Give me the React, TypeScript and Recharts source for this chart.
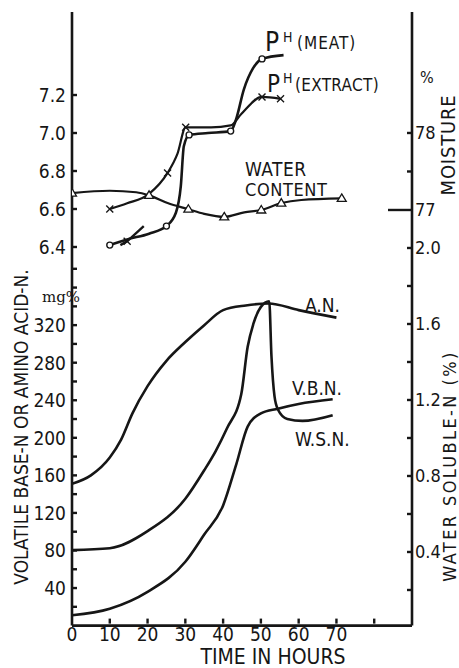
import { ComposedChart, Line, XAxis, YAxis } from "recharts"

const FONT = "'DejaVu Sans Condensed', 'Liberation Sans Narrow', 'DejaVu Sans', sans-serif"
const INK = "#161616"

// time axis (hours)
const hourTicks = [0, 10, 20, 30, 40, 50, 60, 70, 80]
const hourLabels = [0, 10, 20, 30, 40, 50, 60, 70]

// left axis, lower part: volatile base-N / amino acid-N (mg%)
const mgTicks = [20, 40, 60, 80, 100, 120, 140, 160, 180, 200, 220, 240, 260, 280, 300, 320, 340, 360, 380]
const mgLabels = [40, 80, 120, 160, 200, 240, 280, 320]

// left axis, upper part: pH
const phTicks = [6.4, 6.6, 6.8, 7.0, 7.2]

// right axis, upper part: moisture %
const moistureTicks = [77, 77.5, 78]
const moistureLabels = [77, 78]

// right axis, lower part: water soluble-N %
const wsnTicks = [0.2, 0.4, 0.6, 0.8, 1.0, 1.2, 1.4, 1.6, 1.8, 2.0]
const wsnLabels = [0.4, 0.8, 1.2, 1.6, 2.0]

// A.N. (mg%)
const anHours = [0, 5, 10, 13, 16, 20, 25, 30, 35, 40, 46, 52, 60, 70]
const anMg = [151, 160, 179, 198, 226, 255, 282, 302, 320, 336, 341, 343, 336, 328]

// V.B.N. (mg%)
const vbnHours = [0, 10, 20, 30, 35, 40, 43.5, 46.5, 50, 54.5, 60, 69]
const vbnMg = [11, 18, 36, 68, 97, 128, 172, 212, 226, 231, 236, 241]

// W.S.N. (%)
const wsnHours = [0, 10, 20, 30, 35, 38, 41, 44.8, 46.5, 48, 50, 52.2, 52.8, 53.6, 54.5, 57, 61, 69]
const wsnPct = [0.41, 0.42, 0.51, 0.68, 0.83, 0.93, 1.05, 1.23, 1.48, 1.6, 1.69, 1.72, 1.43, 1.22, 1.15, 1.1, 1.09, 1.12]

// pH (meat)
const meatHours = [10, 14.6, 20.4, 25, 27.5, 28.8, 29.6, 31, 36, 42, 43.4, 45.5, 47.9, 50.3, 56]
const meatPh = [6.41, 6.44, 6.47, 6.51, 6.58, 6.72, 6.93, 6.99, 7.0, 7.01, 7.07, 7.23, 7.34, 7.39, 7.41]
const meatMarks = [10, 25, 31, 42, 50.3]

// pH (extract)
const extractHours = [10, 14.6, 20.4, 25.3, 27.9, 30.1, 36.8, 42, 44.8, 50.3, 55.2]
const extractPh = [6.6, 6.63, 6.68, 6.79, 6.89, 7.03, 7.03, 7.04, 7.1, 7.19, 7.18]
const extractMarks = [10, 25.3, 30.1, 50.3, 55.2]

// short extra stroke near the start of the pH curves
const strokeHours = [12.8, 14.6, 19]
const strokePh = [6.41, 6.43, 6.51]
const strokeMarks = [14.6]

// water content (moisture %)
const waterHours = [0, 10, 17, 20.4, 25.3, 30.8, 35, 40.3, 45.6, 50.1, 55.4, 60.7, 71.4]
const waterPct = [77.22, 77.25, 77.23, 77.19, 77.09, 77.01, 76.95, 76.91, 76.97, 77.0, 77.09, 77.13, 77.15]
const waterMarks = [0, 20.4, 30.8, 40.3, 50.1, 55.4, 71.4]

const toRows = (hours: number[], values: number[], marks: number[] = []) =>
  hours.map((t, i) => ({ t, v: values[i], mark: marks.includes(t) }))

const W = 459
const H = 668
const MARGIN = { top: 12, left: 12, right: 7, bottom: 6.4 }
const LEFT_W = 60
const RIGHT_W = 40
const X_H = 36

const tickText = { fontFamily: FONT, fontSize: 19, fill: INK }

const LeftTick = (props: any) => {
  const { x, y, payload, labels, digits } = props
  const show = labels.includes(payload.value)
  return (
    <g>
      <line x1={x + 6} x2={x + 11} y1={y} y2={y} stroke={INK} strokeWidth={2.4} />
      {show && (
        <text x={x} y={y} textAnchor="end" dominantBaseline="central" {...tickText}>
          {payload.value.toFixed(digits)}
        </text>
      )}
    </g>
  )
}

const RightTick = (props: any) => {
  const { x, y, payload, labels, digits, longAt } = props
  const show = labels.includes(payload.value)
  const len = payload.value === longAt ? 24 : 5
  return (
    <g>
      <line x1={x - 3} x2={x - 3 - len} y1={y} y2={y} stroke={INK} strokeWidth={2.4} />
      {show && (
        <text x={x} y={y} textAnchor="start" dominantBaseline="central" {...tickText} fontSize={18}>
          {payload.value.toFixed(digits)}
        </text>
      )}
    </g>
  )
}

const BottomTick = (props: any) => {
  const { x, y, payload } = props
  const show = hourLabels.includes(payload.value)
  return (
    <g>
      {payload.value > 0 && <line x1={x} x2={x} y1={y - 3} y2={y - 8} stroke={INK} strokeWidth={2.4} />}
      {show && (
        <text x={x} y={y} textAnchor="middle" dominantBaseline="hanging" {...tickText}>
          {payload.value}
        </text>
      )}
    </g>
  )
}

const circleDot = (p: any) =>
  p.payload.mark ? (
    <circle key={p.index} cx={p.cx} cy={p.cy} r={3} fill="#fff" stroke={INK} strokeWidth={1.4} />
  ) : (
    <g key={p.index} />
  )

const crossDot = (p: any) =>
  p.payload.mark ? (
    <g key={p.index} stroke={INK} strokeWidth={1.4}>
      <line x1={p.cx - 3.5} y1={p.cy - 3.5} x2={p.cx + 3.5} y2={p.cy + 3.5} />
      <line x1={p.cx - 3.5} y1={p.cy + 3.5} x2={p.cx + 3.5} y2={p.cy - 3.5} />
    </g>
  ) : (
    <g key={p.index} />
  )

const triangleDot = (p: any) =>
  p.payload.mark ? (
    <path
      key={p.index}
      d={`M${p.cx},${p.cy - 4.5} L${p.cx + 4.5},${p.cy + 3} L${p.cx - 4.5},${p.cy + 3} Z`}
      fill="#fff"
      stroke={INK}
      strokeWidth={1.3}
    />
  ) : (
    <g key={p.index} />
  )

const Label = ({ x, y, size, children, family, spacing }: any) => (
  <div
    style={{
      position: "absolute",
      left: x,
      top: y,
      fontSize: size,
      lineHeight: 1,
      whiteSpace: "nowrap",
      fontFamily: family || FONT,
      letterSpacing: spacing || 0,
      color: INK,
    }}
  >
    {children}
  </div>
)

const VLabel = ({ cx, cy, size, children, spacing }: any) => (
  <div
    style={{
      position: "absolute",
      left: cx,
      top: cy,
      fontSize: size,
      lineHeight: 1,
      whiteSpace: "nowrap",
      fontFamily: FONT,
      letterSpacing: spacing || 0,
      color: INK,
      transform: "translate(-50%, -50%) rotate(-90deg)",
    }}
  >
    {children}
  </div>
)

export default function App() {
  const anData = toRows(anHours, anMg)
  const vbnData = toRows(vbnHours, vbnMg)
  const wsnData = toRows(wsnHours, wsnPct)
  const meatData = toRows(meatHours, meatPh, meatMarks)
  const extractData = toRows(extractHours, extractPh, extractMarks)
  const strokeData = toRows(strokeHours, strokePh, strokeMarks)
  const waterData = toRows(waterHours, waterPct, waterMarks)

  const axisLine = { stroke: INK, strokeWidth: 2.6 }

  return (
    <div style={{ position: "absolute", left: 0, top: 0, width: W, height: H, background: "#fff", overflow: "hidden" }}>
      {/* lower panel: nitrogen curves */}
      <div style={{ position: "absolute", left: 0, top: 0 }}>
        <ComposedChart width={W} height={H} margin={MARGIN}>
          <XAxis
            dataKey="t"
            type="number"
            domain={[0, 90]}
            ticks={hourTicks}
            allowDataOverflow
            height={X_H}
            axisLine={axisLine}
            tickLine={false}
            tickSize={0}
            tickMargin={1}
            tick={(p: any) => <BottomTick {...p} />}
            interval={0}
          />
          <YAxis
            yAxisId="mg"
            orientation="left"
            type="number"
            domain={[0, 653.5]}
            allowDataOverflow
            ticks={mgTicks}
            width={LEFT_W}
            axisLine={axisLine}
            tickLine={false}
            tickSize={0}
            tickMargin={6}
            interval={0}
            tick={(p: any) => <LeftTick {...p} labels={mgLabels} digits={0} />}
          />
          <YAxis
            yAxisId="wsn"
            orientation="right"
            type="number"
            domain={[0.0126, 3.242]}
            allowDataOverflow
            ticks={wsnTicks}
            width={RIGHT_W}
            axisLine={axisLine}
            tickLine={false}
            tickSize={0}
            tickMargin={3}
            interval={0}
            tick={(p: any) => <RightTick {...p} labels={wsnLabels} digits={1} />}
          />
          <Line data={anData} dataKey="v" yAxisId="mg" type="monotone" stroke={INK} strokeWidth={2.6} dot={false} isAnimationActive={false} />
          <Line data={vbnData} dataKey="v" yAxisId="mg" type="monotone" stroke={INK} strokeWidth={2.6} dot={false} isAnimationActive={false} />
          <Line data={wsnData} dataKey="v" yAxisId="wsn" type="monotone" stroke={INK} strokeWidth={2.6} dot={false} isAnimationActive={false} />
        </ComposedChart>
      </div>

      {/* upper panel: pH and moisture, same plot area */}
      <div style={{ position: "absolute", left: 0, top: 0 }}>
        <ComposedChart width={W} height={H} margin={MARGIN}>
          <XAxis dataKey="t" type="number" domain={[0, 90]} allowDataOverflow height={X_H} axisLine={false} tickLine={false} tick={false} />
          <YAxis
            yAxisId="ph"
            orientation="left"
            type="number"
            domain={[4.407, 7.637]}
            allowDataOverflow
            ticks={phTicks}
            width={LEFT_W}
            axisLine={false}
            tickLine={false}
            tickSize={0}
            tickMargin={6}
            interval={0}
            tick={(p: any) => <LeftTick {...p} labels={phTicks} digits={1} />}
          />
          <YAxis
            yAxisId="moist"
            orientation="right"
            type="number"
            domain={[71.603, 79.571]}
            allowDataOverflow
            ticks={moistureTicks}
            width={RIGHT_W}
            axisLine={false}
            tickLine={false}
            tickSize={0}
            tickMargin={3}
            interval={0}
            tick={(p: any) => <RightTick {...p} labels={moistureLabels} digits={0} longAt={77} />}
          />
          <Line data={waterData} dataKey="v" yAxisId="moist" type="monotone" stroke={INK} strokeWidth={2.2} dot={triangleDot} isAnimationActive={false} />
          <Line data={meatData} dataKey="v" yAxisId="ph" type="monotone" stroke={INK} strokeWidth={2.6} dot={circleDot} isAnimationActive={false} />
          <Line data={extractData} dataKey="v" yAxisId="ph" type="monotone" stroke={INK} strokeWidth={2.2} dot={crossDot} isAnimationActive={false} />
          <Line data={strokeData} dataKey="v" yAxisId="ph" type="linear" stroke={INK} strokeWidth={2.4} dot={crossDot} isAnimationActive={false} />
        </ComposedChart>
      </div>

      {/* series labels */}
      <Label x={265} y={29} size={26}>P</Label>
      <Label x={283} y={30} size={14}>H</Label>
      <Label x={297} y={35} size={17} spacing={1}>(MEAT)</Label>
      <Label x={267} y={72} size={24}>P</Label>
      <Label x={283} y={71} size={14}>H</Label>
      <Label x={295} y={77} size={17} spacing={0.3}>(EXTRACT)</Label>
      <Label x={245} y={160} size={19} spacing={0.5}>WATER</Label>
      <Label x={245} y={181} size={18} spacing={0.6}>CONTENT</Label>
      <Label x={305} y={296} size={19}>A.N.</Label>
      <Label x={292} y={379} size={19}>V.B.N.</Label>
      <Label x={295} y={430} size={19}>W.S.N.</Label>

      {/* axis titles */}
      <Label x={42} y={290} size={15} family="'DejaVu Serif', serif">mg%</Label>
      <Label x={420} y={70} size={16}>%</Label>
      <VLabel cx={448} cy={145} size={20} spacing={0.8}>MOISTURE</VLabel>
      <VLabel cx={450} cy={466} size={18} spacing={2.4}>WATER SOLUBLE-N (%)</VLabel>
      <VLabel cx={20.5} cy={427} size={19}>VOLATILE BASE-N OR AMINO ACID-N.</VLabel>
      <div
        style={{
          position: "absolute",
          left: 273,
          top: 647,
          transform: "translateX(-50%)",
          fontSize: 21,
          lineHeight: 1,
          whiteSpace: "nowrap",
          fontFamily: FONT,
          color: INK,
        }}
      >
        TIME IN HOURS
      </div>
    </div>
  )
}
